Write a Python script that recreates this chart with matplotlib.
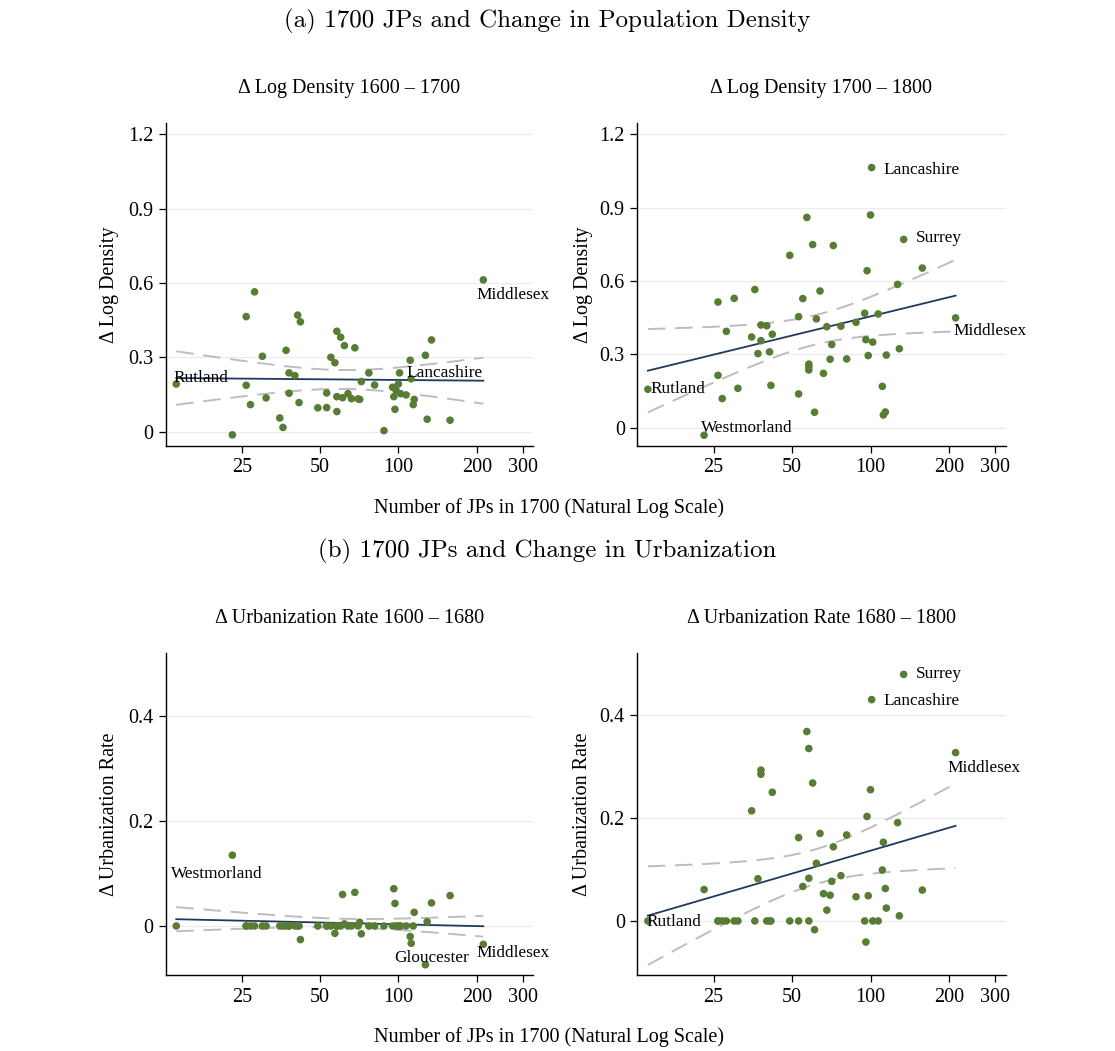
import numpy as np
import matplotlib
matplotlib.use("Agg")
import matplotlib.pyplot as plt

# -------------------------------------
# Data
# -------------------------------------

# Number of JPs in 1700, one entry per county, same order in every panel
jps = [14, 23, 26, 26, 27, 28, 30, 31, 35, 36, 37, 38, 38, 40, 41, 41.5, 42,
       49, 53, 53, 55, 57, 58, 58, 58, 60, 61, 62, 64, 66, 68, 70, 71, 72,
       77, 81, 88, 95, 96, 97, 98, 100, 101, 102, 107, 111, 112, 114, 115,
       127, 129, 134, 158, 212]

dens_1600_1700 = [0.192, -0.013, 0.187, 0.464, 0.109, 0.564, 0.304, 0.136,
                  0.055, 0.017, 0.328, 0.237, 0.155, 0.226, 0.470, 0.117,
                  0.443, 0.096, 0.156, 0.097, 0.300, 0.278, 0.405, 0.141,
                  0.081, 0.381, 0.137, 0.347, 0.153, 0.133, 0.338, 0.132,
                  0.130, 0.202, 0.237, 0.188, 0.004, 0.179, 0.141, 0.090,
                  0.166, 0.192, 0.237, 0.153, 0.148, 0.288, 0.213, 0.109,
                  0.130, 0.308, 0.050, 0.370, 0.046, 0.612]

dens_1700_1800 = [0.157, -0.031, 0.514, 0.214, 0.119, 0.394, 0.529, 0.161,
                  0.371, 0.565, 0.303, 0.420, 0.356, 0.417, 0.310, 0.173,
                  0.382, 0.705, 0.454, 0.138, 0.528, 0.860, 0.260, 0.250,
                  0.236, 0.749, 0.063, 0.445, 0.559, 0.222, 0.413, 0.280,
                  0.340, 0.745, 0.415, 0.281, 0.431, 0.468, 0.360, 0.642,
                  0.295, 0.870, 1.064, 0.350, 0.465, 0.169, 0.052, 0.064,
                  0.297, 0.586, 0.323, 0.770, 0.653, 0.449]

urb_1600_1680 = [0, 0.135, 0, 0, 0, 0, 0, 0, 0, 0, 0, 0, 0, 0, 0, 0, -0.026,
                 0, 0, 0, 0, -0.014, 0, 0, 0, 0, 0.060, 0.004, 0, 0, 0.064,
                 0, 0.007, -0.015, 0, 0, 0, 0, 0.071, 0.043, 0, 0, 0, 0, 0,
                 -0.020, -0.033, 0, 0.026, -0.074, 0.008, 0.044, 0.058, -0.035]

urb_1680_1800 = [0, 0.061, 0, 0, 0, 0, 0, 0, 0.214, 0, 0.082, 0.293, 0.285,
                 0, 0, 0, 0.250, 0, 0.162, 0, 0.067, 0.368, 0.335, 0.083, 0,
                 0.268, -0.017, 0.112, 0.170, 0.053, 0.021, 0.050, 0.077,
                 0.144, 0.088, 0.167, 0.047, 0, -0.041, 0.203, 0.049, 0.255,
                 0.430, 0, 0, 0.099, 0.153, 0.063, 0.025, 0.191, 0.010, 0.479,
                 0.060, 0.327]

# county labels: index into jps -> name
labels_dens_1600 = {0: "Rutland", 42: "Lancashire", 53: "Middlesex"}
labels_dens_1700 = {0: "Rutland", 1: "Westmorland", 42: "Lancashire",
                    51: "Surrey", 53: "Middlesex"}
labels_urb_1600 = {1: "Westmorland", 49: "Gloucester", 53: "Middlesex"}
labels_urb_1680 = {0: "Rutland", 42: "Lancashire", 51: "Surrey",
                   53: "Middlesex"}

x_ticks = [25, 50, 100, 200, 300]
ytick_dens = [0, 0.3, 0.6, 0.9, 1.2]
ytick_urb = [0, 0.2, 0.4]

# -------------------------------------
# Style
# -------------------------------------

SERIF = "Liberation Serif"
FS = 14.5
LAB_FS = 12.4
DOT = "#587c34"
NAVY = "#1f3a5f"
CIGRAY = "#bdbdbd"

plt.rcParams["font.family"] = SERIF


def lfitci(x, y, npts=120, t=2.007):
    lx = np.log(np.asarray(x, dtype=float))
    y = np.asarray(y, dtype=float)
    n = len(lx)
    b, a = np.polyfit(lx, y, 1)
    resid = y - (a + b * lx)
    s = np.sqrt(np.sum(resid ** 2) / (n - 2))
    sxx = np.sum((lx - lx.mean()) ** 2)
    g = np.linspace(lx.min(), lx.max(), npts)
    fit = a + b * g
    se = s * np.sqrt(1.0 / n + (g - lx.mean()) ** 2 / sxx)
    return np.exp(g), fit, fit - t * se, fit + t * se


def panel(ax, y, yticks, ylim, title, ylabel, labels, offsets, ylab_x):
    gx, fit, lo, hi = lfitci(jps, y)
    ax.plot(gx, lo, color=CIGRAY, lw=1.4, dashes=(9, 5), zorder=2)
    ax.plot(gx, hi, color=CIGRAY, lw=1.4, dashes=(9, 5), zorder=2)
    ax.plot(gx, fit, color=NAVY, lw=1.3, zorder=2)
    ax.scatter(jps, y, s=30, color=DOT, edgecolors="none", zorder=3)

    for i, name in labels.items():
        dx, dy, ha = offsets[name]
        ax.annotate(name, (jps[i], y[i]), xytext=(dx, dy),
                    textcoords="offset pixels", ha=ha, va="center",
                    fontsize=LAB_FS, zorder=4)

    ax.set_xscale("log")
    ax.set_xlim(12.75, 330)
    ax.set_ylim(*ylim)
    ax.set_xticks(x_ticks)
    ax.set_xticklabels([str(v) for v in x_ticks])
    ax.minorticks_off()
    ax.set_yticks(yticks)
    ax.set_yticklabels([f"{v:g}" for v in yticks])
    ax.tick_params(labelsize=FS, length=5, width=0.9, color="black", pad=4)
    for v in yticks:
        ax.axhline(v, color="#ececec", lw=0.9, zorder=0)
    for side in ["top", "right"]:
        ax.spines[side].set_visible(False)
    for side in ["left", "bottom"]:
        ax.spines[side].set_linewidth(1.0)
    ax.text(0.5, 1.108, title, transform=ax.transAxes, ha="center",
            va="center", fontsize=FS)
    ax.text(ylab_x, 0.5, ylabel, transform=ax.transAxes, ha="center",
            va="center", rotation=90, fontsize=FS)


W, H = 1115, 1051
fig = plt.figure(figsize=(W / 100, H / 100), dpi=100)


def box(x0, x1, top, bottom):
    return [x0 / W, 1 - bottom / H, (x1 - x0) / W, (bottom - top) / H]


ax1 = fig.add_axes(box(165.7, 533.3, 123.3, 446))
ax2 = fig.add_axes(box(637.3, 1005.7, 123.3, 446))
ax3 = fig.add_axes(box(165.7, 533.3, 653.3, 975))
ax4 = fig.add_axes(box(637.3, 1005.7, 653.3, 975))

panel(ax1, dens_1600_1700, ytick_dens, (-0.058, 1.244),
      "\u0394 Log Density 1600 \u2013 1700", "\u0394 Log Density",
      labels_dens_1600,
      {"Rutland": (-3, 6, "left"), "Lancashire": (7, 0, "left"),
       "Middlesex": (-7, -15, "left")}, -0.152)
panel(ax2, dens_1700_1800, ytick_dens, (-0.075, 1.245),
      "\u0394 Log Density 1700 \u2013 1800", "\u0394 Log Density",
      labels_dens_1700,
      {"Rutland": (3, 0, "left"), "Westmorland": (-3, 7, "left"),
       "Lancashire": (12, -2, "left"), "Surrey": (12, 1, "left"),
       "Middlesex": (-2, -13, "left")}, -0.147)
panel(ax3, urb_1600_1680, ytick_urb, (-0.0935, 0.52),
      "\u0394 Urbanization Rate 1600 \u2013 1680", "\u0394 Urbanization Rate",
      labels_urb_1600,
      {"Westmorland": (-61, -19, "left"), "Gloucester": (6, 7, "center"),
       "Middlesex": (-7, -9, "left")}, -0.152)
panel(ax4, urb_1680_1800, ytick_urb, (-0.105, 0.52),
      "\u0394 Urbanization Rate 1680 \u2013 1800", "\u0394 Urbanization Rate",
      labels_urb_1680,
      {"Rutland": (-1, -1, "left"), "Lancashire": (12, -1, "left"),
       "Surrey": (12, 0, "left"), "Middlesex": (-8, -15, "left")}, -0.150)

fig.text(547 / W, 1 - 21 / H, "(a) 1700 JPs and Change in Population Density",
         ha="center", va="center", fontsize=18, family="cmr10")
fig.text(547 / W, 1 - 551 / H, "(b) 1700 JPs and Change in Urbanization",
         ha="center", va="center", fontsize=18, family="cmr10")
fig.text(549 / W, 1 - 508 / H, "Number of JPs in 1700 (Natural Log Scale)",
         ha="center", va="center", fontsize=FS)
fig.text(549 / W, 1 - 1037 / H, "Number of JPs in 1700 (Natural Log Scale)",
         ha="center", va="center", fontsize=FS)

fig.savefig("out.png", dpi=100)
